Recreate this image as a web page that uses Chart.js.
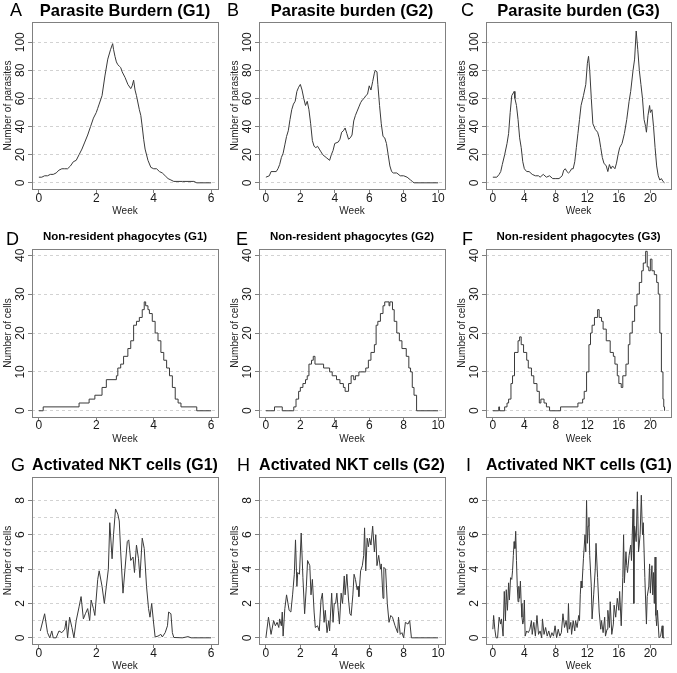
<!DOCTYPE html>
<html>
<head>
<meta charset="utf-8">
<script src="https://cdn.jsdelivr.net/npm/chart.js@4.4.0/dist/chart.umd.min.js"></script>
<style>
body { margin:0; width:677px; height:673px; position:relative; background:#fff; overflow:hidden; font-family:"Liberation Sans", Arial, sans-serif; }
canvas { position:absolute; }
.title { position:absolute; text-align:center; font-weight:bold; color:#000; white-space:nowrap; line-height:1; }
.letter { position:absolute; font-size:18px; line-height:1; color:#000; }
</style>
</head>
<body>
<script>
// tick labels
const parasiteTicks = [0, 20, 40, 60, 80, 100];
const cellTicks = [0, 10, 20, 30, 40];
const nktTicks = [0, 2, 4, 6, 8];
const nktGrid = [0, 1, 2, 3, 4, 5, 6, 7, 8];
const weekTicksG1 = [0, 2, 4, 6];
const weekTicksG2 = [0, 2, 4, 6, 8, 10];
const weekTicksG3 = [0, 4, 8, 12, 16, 20];

// series: [week, value]
const parasiteG1 = [[0,4],[0.1,4],[0.2,5],[0.3,5],[0.4,6],[0.5,6],[0.6,7],[0.7,9],[0.8,10],[0.9,10],[1.0,10],[1.1,12],[1.2,15],[1.3,16],[1.4,20],[1.5,24],[1.6,29],[1.7,34],[1.8,40],[1.9,46],[2.0,50],[2.05,53],[2.1,56],[2.2,62],[2.3,76],[2.4,88],[2.5,95],[2.57,99],[2.6,95],[2.65,90],[2.7,86],[2.75,84],[2.8,83],[2.85,82],[2.9,79],[3.0,75],[3.1,70],[3.2,67],[3.25,69],[3.3,73],[3.35,66],[3.4,62],[3.5,52],[3.55,48],[3.6,40],[3.65,31],[3.7,24],[3.8,16],[3.9,11],[4.0,10],[4.1,10],[4.2,8],[4.3,7],[4.4,5],[4.5,3],[4.6,2],[4.7,1],[5.0,1],[5.4,1],[5.5,0],[6.0,0]];
const parasiteG2 = [[0,4],[0.2,5],[0.3,8],[0.6,8],[0.7,10],[0.8,13],[0.9,18],[1.0,21],[1.1,27],[1.2,33],[1.3,37],[1.4,45],[1.5,52],[1.6,56],[1.7,58],[1.8,65],[1.9,68],[2.0,70],[2.1,66],[2.2,60],[2.3,55],[2.4,58],[2.5,52],[2.6,42],[2.7,30],[2.8,26],[2.9,25],[3.0,26],[3.1,24],[3.2,22],[3.3,20],[3.5,18],[3.7,16],[3.8,20],[3.9,23],[4.0,28],[4.2,29],[4.3,31],[4.4,36],[4.5,37],[4.6,39],[4.7,35],[4.8,31],[4.9,32],[5.0,34],[5.1,44],[5.2,48],[5.3,51],[5.4,54],[5.5,57],[5.6,59],[5.7,60],[5.8,62],[5.9,63],[6.0,69],[6.1,66],[6.2,72],[6.3,78],[6.35,80],[6.45,79],[6.5,70],[6.6,55],[6.7,42],[6.8,33],[6.9,32],[7.0,28],[7.1,20],[7.2,12],[7.3,8],[7.4,7],[7.6,7],[7.8,5],[8.0,5],[8.2,4],[8.4,2],[8.5,1],[8.6,0],[10.0,0]];
const parasiteG3 = [[0,4],[0.5,4],[0.8,6],[1.0,8],[1.2,13],[1.5,20],[1.8,28],[2.0,35],[2.2,50],[2.4,62],[2.6,64],[2.7,65],[2.8,60],[3.0,55],[3.2,45],[3.4,32],[3.6,25],[3.8,15],[4.0,10],[4.3,8],[4.6,8],[5.0,6],[5.4,5],[5.8,5],[6.0,4],[6.4,6],[6.8,4],[7.2,5],[7.6,3],[8.0,3],[8.4,3],[8.8,5],[9.0,9],[9.2,10],[9.4,8],[9.6,7],[9.8,8],[10.0,10],[10.2,10],[10.4,15],[10.6,25],[10.8,35],[11.0,45],[11.2,55],[11.5,62],[11.8,70],[12.0,85],[12.15,90],[12.3,80],[12.5,60],[12.7,42],[13.0,38],[13.3,36],[13.5,32],[13.7,25],[13.9,18],[14.1,14],[14.4,12],[14.6,8],[14.8,13],[15.0,10],[15.2,12],[15.5,10],[15.7,14],[15.9,20],[16.1,25],[16.4,28],[16.7,35],[17.0,45],[17.3,58],[17.5,65],[17.8,80],[18.0,88],[18.2,108],[18.4,95],[18.6,80],[18.8,70],[19.0,60],[19.2,45],[19.4,40],[19.5,36],[19.7,48],[19.9,55],[20.0,50],[20.2,52],[20.4,40],[20.6,25],[20.8,12],[21.0,5],[21.2,2],[21.4,3],[21.6,1],[21.8,0]];

const phagoG1 = [[0,0],[0.15,1],[1.4,2],[1.75,3],[1.95,4],[2.2,6],[2.35,8],[2.7,9],[2.75,11],[2.85,12],[2.95,14],[3.1,16],[3.2,18],[3.3,22],[3.4,23],[3.5,24],[3.6,26],[3.67,28],[3.72,27],[3.8,26],[3.85,25],[3.95,23],[4.05,20],[4.15,18],[4.25,15],[4.35,13],[4.45,11],[4.55,9],[4.65,6],[4.75,3],[4.85,2],[4.95,1],[5.5,0],[6.0,0]];
const phagoG2 = [[0,0],[0.5,1],[0.95,0],[1.62,1],[1.75,3],[1.9,5],[2.0,6],[2.15,7],[2.3,8],[2.4,9],[2.5,12],[2.65,13],[2.75,14],[2.85,12],[3.35,11],[3.7,10],[3.85,9],[4.1,8],[4.3,7],[4.5,6],[4.6,5],[4.8,7],[4.95,9],[5.1,8],[5.2,9],[5.4,10],[5.8,11],[5.95,13],[6.1,15],[6.3,17],[6.4,22],[6.5,23],[6.65,25],[6.8,27],[6.9,28],[7.15,27],[7.2,28],[7.35,26],[7.45,23],[7.6,20],[7.75,18],[7.9,16],[8.15,14],[8.3,11],[8.4,10],[8.5,6],[8.6,4],[8.75,0],[10,0]];
const phagoG3 = [[0,0],[0.75,1],[0.85,0],[1.5,1],[1.8,2],[2.0,3],[2.3,7],[2.5,9],[2.75,15],[3.2,18],[3.4,19],[3.6,17],[3.9,15],[4.3,13],[4.5,11],[4.9,9],[5.2,7],[5.6,5],[5.9,2],[6.1,3],[6.5,2],[6.8,1],[7.2,0],[8.6,1],[10.8,2],[11.4,3],[11.6,5],[11.9,10],[12.2,17],[12.4,20],[12.6,22],[12.9,24],[13.3,26],[13.5,24],[13.8,23],[14.0,21],[14.4,18],[14.9,15],[15.3,14],[15.5,12],[15.8,9],[16.0,7],[16.3,6],[16.5,9],[16.9,12],[17.2,17],[17.4,20],[17.7,23],[18.0,27],[18.3,30],[18.6,33],[18.9,36],[19.1,38],[19.4,41],[19.6,37],[19.8,36],[20.0,39],[20.2,36],[20.5,35],[20.8,33],[21.0,30],[21.2,20],[21.4,10],[21.6,3],[21.7,1],[21.8,0]];

const nktG1 = [[0.05,0.4],[0.2,1.4],[0.3,0.3],[0.38,0],[0.45,0.4],[0.5,0],[0.6,0],[0.7,0.4],[0.8,0.3],[0.9,0.5],[0.95,1.0],[1.0,0],[1.07,1.2],[1.15,0.6],[1.22,0],[1.3,1.0],[1.4,1.8],[1.47,2.4],[1.55,1.1],[1.62,1.4],[1.7,1.7],[1.77,1.0],[1.82,2.2],[1.9,1.7],[1.95,1.3],[2.05,3.4],[2.1,3.9],[2.2,3.0],[2.28,2.0],[2.35,3.0],[2.42,4.0],[2.47,6.7],[2.55,4.6],[2.6,6.0],[2.67,7.5],[2.75,7.2],[2.8,6.8],[2.85,5.0],[2.93,2.6],[3.0,4.0],[3.08,5.6],[3.13,5.7],[3.2,4.5],[3.28,4.7],[3.33,3.8],[3.4,5.4],[3.47,4.6],[3.52,3.5],[3.6,5.8],[3.67,5.2],[3.75,3.0],[3.82,1.7],[3.87,1.2],[3.93,2.0],[4.0,0.8],[4.05,0.05],[4.15,0.1],[4.25,0.2],[4.3,0.05],[4.4,0.3],[4.48,0.7],[4.52,1.5],[4.6,1.4],[4.65,0.3],[4.7,0.02],[5.0,0],[5.2,0.07],[5.3,0],[6.0,0]];
const nktG2 = [[0,0],[0.15,1.2],[0.3,0.2],[0.45,1.0],[0.55,0.7],[0.65,0.9],[0.75,0.6],[0.8,1.1],[0.9,0.7],[0.95,1.5],[1.0,0.1],[1.1,1.7],[1.2,2.5],[1.35,1.6],[1.45,1.5],[1.55,2.5],[1.65,3.7],[1.72,5.7],[1.8,3.0],[1.85,3.8],[1.95,3.7],[2.05,6.1],[2.15,3.5],[2.25,1.4],[2.35,3.0],[2.42,4.5],[2.55,4.2],[2.62,2.5],[2.7,3.4],[2.8,1.5],[2.87,0.6],[3.0,0.7],[3.1,0.4],[3.2,2.2],[3.28,2.6],[3.38,0.9],[3.45,1.6],[3.55,0.3],[3.65,1.0],[3.7,0.4],[3.82,2.6],[3.9,0.9],[3.97,2.0],[4.05,2.0],[4.12,2.6],[4.2,1.6],[4.27,0.8],[4.37,2.6],[4.45,2.0],[4.55,3.6],[4.6,2.5],[4.7,3.7],[4.8,2.2],[4.88,1.4],[4.95,1.3],[5.05,2.5],[5.12,3.7],[5.2,3.4],[5.3,2.8],[5.35,3.0],[5.4,2.4],[5.5,3.9],[5.6,4.2],[5.68,4.8],[5.73,6.4],[5.8,3.9],[5.88,5.8],[5.95,5.3],[6.02,5.8],[6.1,5.4],[6.2,6.5],[6.3,5.0],[6.38,6.0],[6.45,4.2],[6.55,4.8],[6.65,4.0],[6.7,4.3],[6.8,2.3],[6.85,4.1],[6.95,4.0],[7.05,2.0],[7.15,0.9],[7.25,1.3],[7.35,1.2],[7.5,0.7],[7.65,0.3],[7.7,1.2],[7.8,0.2],[7.9,0.3],[8.0,0],[8.1,0.9],[8.25,0.8],[8.35,1.0],[8.45,0],[10.0,0]];
const nktG3 = [[0,0.5],[0.1,1.3],[0.25,0.5],[0.4,0],[0.6,0],[0.8,1.2],[1.0,0.8],[1.1,1.1],[1.3,0.1],[1.45,2.7],[1.6,1.0],[1.7,2.8],[1.85,1.6],[2.0,3.2],[2.1,2.2],[2.25,3.5],[2.4,3.4],[2.5,3.9],[2.6,4.8],[2.7,5.6],[2.8,5.2],[2.9,6.2],[3.0,4.5],[3.1,3.0],[3.2,2.1],[3.3,3.0],[3.4,2.3],[3.5,3.3],[3.6,2.0],[3.7,1.2],[3.8,0.8],[3.9,1.0],[4.0,2.2],[4.1,0.1],[4.3,0.4],[4.5,0.3],[4.7,0.5],[4.9,1.0],[5.0,0.2],[5.2,0.9],[5.4,0.1],[5.6,1.3],[5.8,0.2],[6.0,0.4],[6.2,0],[6.3,1.1],[6.5,0.2],[6.7,0.6],[6.9,0.1],[7.1,0.4],[7.3,0],[7.5,0.3],[7.7,0.1],[7.9,0.7],[8.1,0],[8.3,0.5],[8.5,0.1],[8.7,0.3],[8.9,1.4],[9.1,0.6],[9.3,1.0],[9.5,0.3],[9.6,2.0],[9.7,0.5],[9.9,0.9],[10.0,0.2],[10.2,1.0],[10.4,0.4],[10.5,1.0],[10.7,0.6],[10.9,1.3],[11.0,1.0],[11.1,2.5],[11.2,3.3],[11.3,2.9],[11.5,4.6],[11.7,6.0],[11.8,5.0],[11.9,8.0],[12.0,5.5],[12.1,6.5],[12.2,7.0],[12.3,4.8],[12.5,3.0],[12.6,1.1],[12.8,2.5],[13.0,4.0],[13.1,5.5],[13.3,3.5],[13.5,1.5],[13.7,0.5],[13.8,1.0],[14.0,0.3],[14.2,1.2],[14.3,0.1],[14.5,0.5],[14.6,1.6],[14.8,0.6],[14.9,2.1],[15.1,0.2],[15.3,0.8],[15.4,1.9],[15.6,1.2],[15.8,2.3],[16.0,1.6],[16.1,2.7],[16.3,0.7],[16.5,3.5],[16.6,6.0],[16.7,3.2],[16.9,5.0],[17.0,4.2],[17.1,3.8],[17.3,4.8],[17.5,5.4],[17.6,4.5],[17.7,6.0],[17.8,7.5],[17.9,2.0],[18.0,6.5],[18.2,5.6],[18.35,8.5],[18.5,5.0],[18.7,6.0],[18.85,8.3],[19.0,6.0],[19.1,6.7],[19.3,3.5],[19.5,0.8],[19.6,2.4],[19.8,3.0],[19.9,4.3],[20.0,2.6],[20.2,4.2],[20.3,2.5],[20.4,3.8],[20.5,2.0],[20.6,4.7],[20.7,1.3],[20.8,0.7],[20.9,1.6],[21.1,0],[21.3,0.1],[21.4,0.4],[21.5,0.7],[21.6,0],[21.8,0]];

// layout
const cols = [
  {left: 0,   width: 225, yw: 32, pr: 7, yTitlePad: 2.7},
  {left: 225, width: 225, yw: 34, pr: 5, yTitlePad: 4},
  {left: 450, width: 227, yw: 36, pr: 6, yTitlePad: 6.5}
];
const rows = [
  {top: 0,   height: 220, pt: 22, xh: 31, titleSize: 16.5, titleBase: 15.5, letterBase: 16,  xTitlePad: 3, tickPad: -2},
  {top: 220, height: 225, pt: 29, xh: 28, titleSize: 11.5, titleBase: 240.5, letterBase: 245, xTitlePad: 0, tickPad: -3},
  {top: 445, height: 228, pt: 32, xh: 29, titleSize: 16, titleBase: 471, letterBase: 471, xTitlePad: 1, tickPad: -2}
];

const panels = [
  {letter:'A', lx:10,  row:0, col:0, title:'Parasite Burdern (G1)', data:parasiteG1, xr:[-0.24,6.24], xt:weekTicksG1, yr:[-4.4,114.4], yt:parasiteTicks, yg:parasiteTicks, ylab:'Number of parasites'},
  {letter:'B', lx:227, row:0, col:1, title:'Parasite burden (G2)', data:parasiteG2, xr:[-0.4,10.4], xt:weekTicksG2, yr:[-4.4,114.4], yt:parasiteTicks, yg:parasiteTicks, ylab:'Number of parasites'},
  {letter:'C', lx:461, row:0, col:2, title:'Parasite burden (G3)', data:parasiteG3, xr:[-0.87,22.62], xt:weekTicksG3, yr:[-4.4,114.4], yt:parasiteTicks, yg:parasiteTicks, ylab:'Number of parasites'},
  {letter:'D', lx:6,   row:1, col:0, title:'Non-resident phagocytes (G1)', data:phagoG1, step:true, xr:[-0.24,6.24], xt:weekTicksG1, yr:[-1.6,41.6], yt:cellTicks, yg:cellTicks, ylab:'Number of cells'},
  {letter:'E', lx:236, row:1, col:1, title:'Non-resident phagocytes (G2)', data:phagoG2, step:true, xr:[-0.4,10.4], xt:weekTicksG2, yr:[-1.6,41.6], yt:cellTicks, yg:cellTicks, ylab:'Number of cells'},
  {letter:'F', lx:462, row:1, col:2, title:'Non-resident phagocytes (G3)', data:phagoG3, step:true, xr:[-0.87,22.62], xt:weekTicksG3, yr:[-1.6,41.6], yt:cellTicks, yg:cellTicks, ylab:'Number of cells'},
  {letter:'G', lx:11,  row:2, col:0, title:'Activated NKT cells (G1)', data:nktG1, xr:[-0.24,6.24], xt:weekTicksG1, yr:[-0.36,9.36], yt:nktTicks, yg:nktGrid, ylab:'Number of cells'},
  {letter:'H', lx:237, row:2, col:1, title:'Activated NKT cells (G2)', data:nktG2, xr:[-0.4,10.4], xt:weekTicksG2, yr:[-0.36,9.36], yt:nktTicks, yg:nktGrid, ylab:'Number of cells'},
  {letter:'I', lx:466, row:2, col:2, title:'Activated NKT cells (G1)', data:nktG3, xr:[-0.87,22.62], xt:weekTicksG3, yr:[-0.36,9.36], yt:nktTicks, yg:nktGrid, ylab:'Number of cells'}
];

const FONT = '"Liberation Sans", Arial, sans-serif';
const BOX = '#808080';
const TICK_SIZE = 12;

//box round the plot and rotated y labels, like R does
const frame = {
  id: 'frame',
  afterDraw(chart, args, opts) {
    const {ctx, chartArea: a} = chart;
    const y = chart.scales.y;
    ctx.save();
    ctx.strokeStyle = BOX;
    ctx.lineWidth = 1;
    ctx.strokeRect(Math.round(a.left) + 0.5, Math.round(a.top) + 0.5, Math.round(a.right - a.left), Math.round(a.bottom - a.top));
    ctx.fillStyle = '#1a1a1a';
    ctx.font = TICK_SIZE + 'px ' + FONT;
    ctx.textAlign = 'center';
    ctx.textBaseline = 'middle';
    opts.labels.forEach(v => {
      ctx.save();
      ctx.translate(a.left - 11, y.getPixelForValue(v));
      ctx.rotate(-Math.PI / 2);
      ctx.fillText(String(v), 0, 0);
      ctx.restore();
    });
    ctx.restore();
  }
};

function addText(cls, text, left, top, width, size) {
  const d = document.createElement('div');
  d.className = cls;
  d.textContent = text;
  d.style.left = left + 'px';
  d.style.top = top + 'px';
  d.style.fontSize = size + 'px';
  if (width) d.style.width = width + 'px';
  document.body.appendChild(d);
}

panels.forEach(p => {
  const c = cols[p.col], r = rows[p.row];
  const cv = document.createElement('canvas');
  cv.width = c.width;
  cv.height = r.height;
  cv.style.left = c.left + 'px';
  cv.style.top = r.top + 'px';
  document.body.appendChild(cv);

  const boxL = c.left + c.yw, boxR = c.left + c.width - c.pr;
  addText('title', p.title, boxL, r.titleBase - 0.8465 * r.titleSize, boxR - boxL, r.titleSize);
  addText('letter', p.letter, p.lx, r.letterBase - 0.8465 * 18, 0, 18);

  new Chart(cv, {
    type: 'line',
    data: {
      datasets: [{
        data: p.data.map(d => ({x: d[0], y: d[1]})),
        borderColor: '#3a3a3a',
        borderWidth: 1,
        pointRadius: 0,
        tension: 0,
        stepped: p.step ? true : false
      }]
    },
    options: {
      responsive: false,
      animation: false,
      events: [],
      layout: {padding: {top: r.pt, right: c.pr, left: 0, bottom: 0}},
      plugins: {
        legend: {display: false},
        tooltip: {enabled: false},
        frame: {labels: p.yt}
      },
      scales: {
        x: {
          type: 'linear',
          min: p.xr[0],
          max: p.xr[1],
          afterBuildTicks: s => { s.ticks = p.xt.map(v => ({value: v})); },
          afterFit: s => { s.height = r.xh; },
          grid: {drawOnChartArea: false, color: BOX, tickColor: BOX, tickLength: 4},
          border: {display: false},
          ticks: {color: '#1a1a1a', font: {family: FONT, size: TICK_SIZE}, padding: r.tickPad, maxRotation: 0},
          title: {display: true, text: 'Week', color: '#222', font: {family: FONT, size: 10}, padding: {top: 0, bottom: r.xTitlePad}}
        },
        y: {
          type: 'linear',
          min: p.yr[0],
          max: p.yr[1],
          afterBuildTicks: s => { s.ticks = p.yg.map(v => ({value: v})); },
          afterFit: s => { s.width = c.yw; },
          grid: {
            color: '#d2d2d2',
            tickLength: 4,
            tickBorderDash: [],
            tickColor: ctx => (ctx.tick && p.yt.includes(ctx.tick.value)) ? BOX : 'rgba(0,0,0,0)'
          },
          border: {display: false, dash: [3, 3]},
          ticks: {display: false},
          title: {display: true, text: p.ylab, color: '#222', font: {family: FONT, size: 10}, padding: {top: c.yTitlePad, bottom: 0}}
        }
      }
    },
    plugins: [frame]
  });
});
</script>
</body>
</html>
